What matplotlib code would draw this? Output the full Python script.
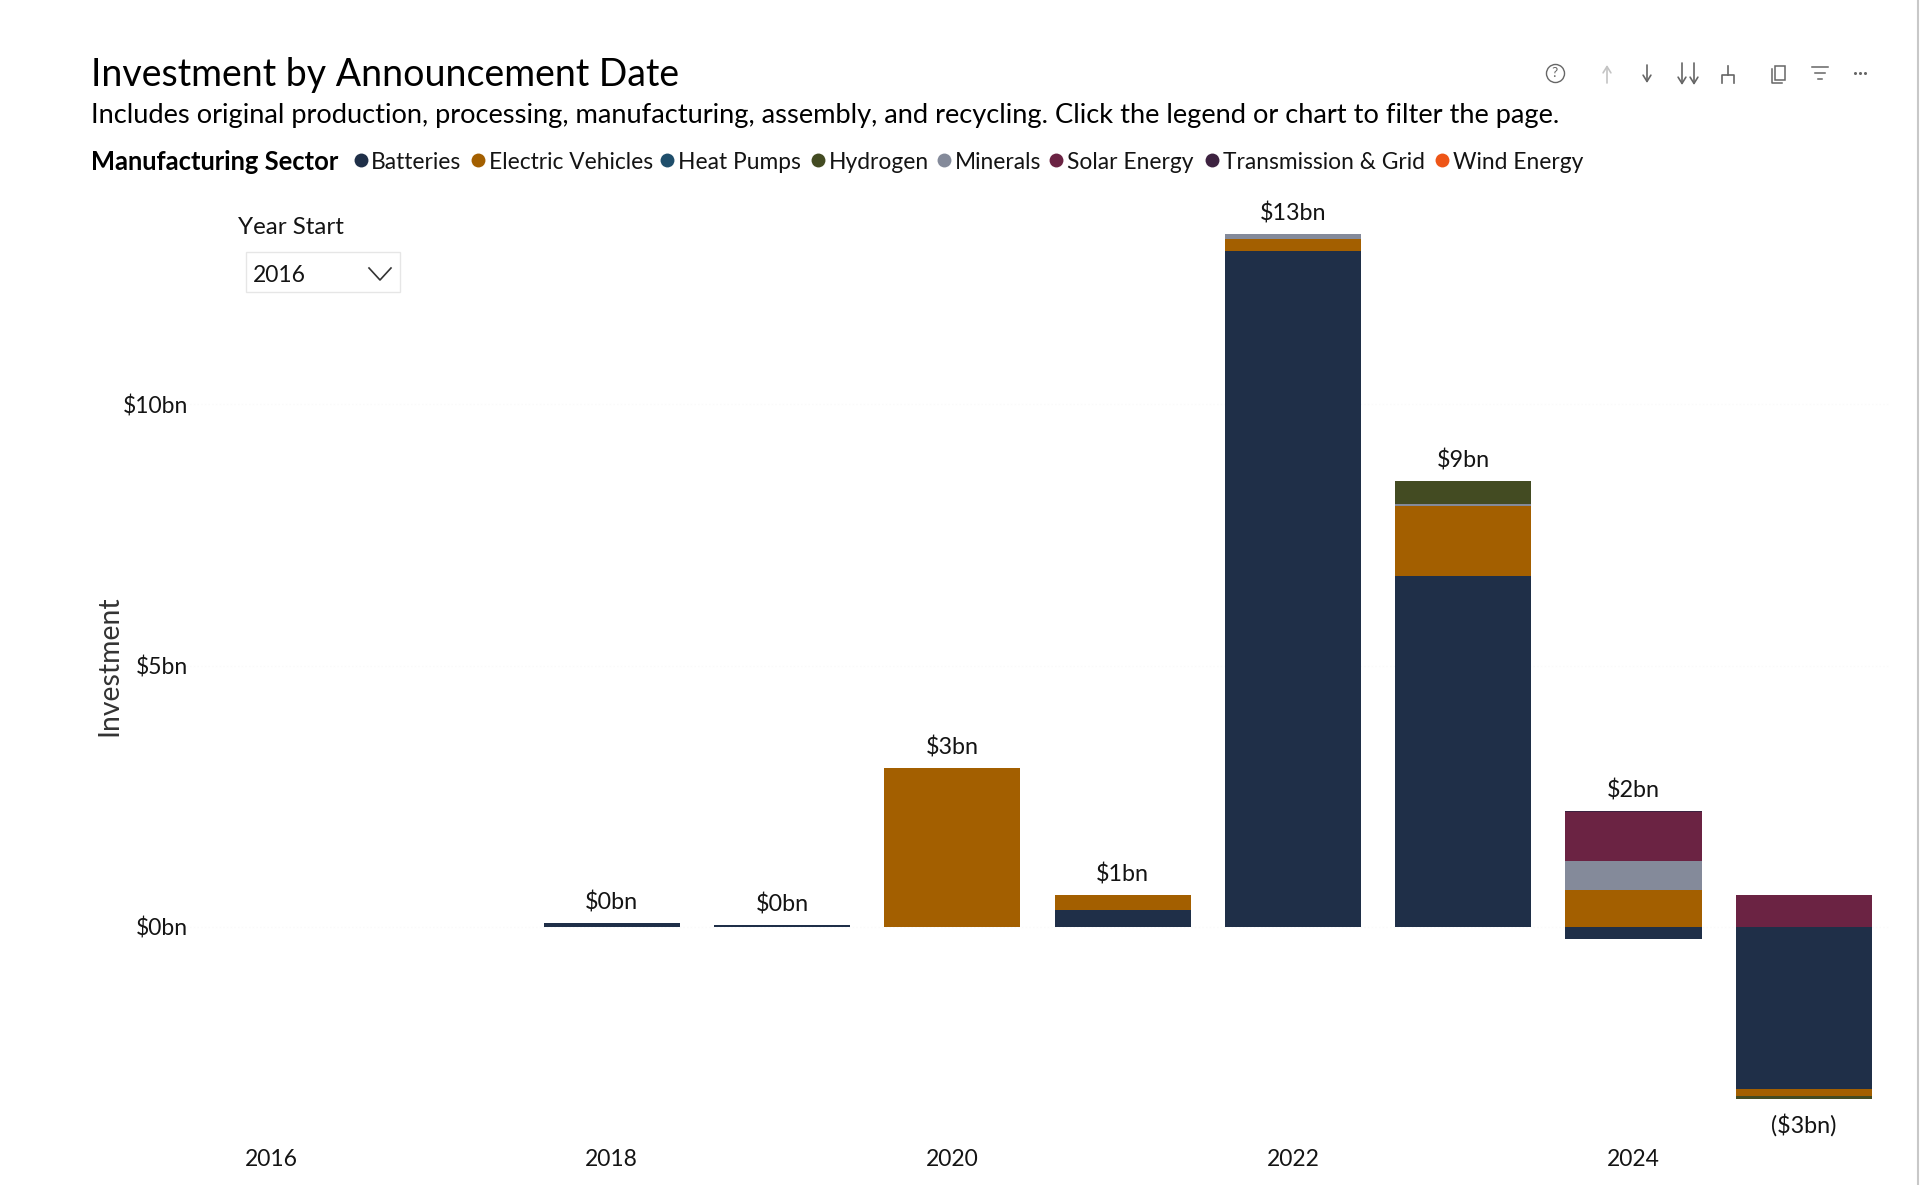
import matplotlib
matplotlib.use('Agg')
import matplotlib.pyplot as plt
import numpy as np

plt.rcParams['font.family'] = ['Lato', 'Roboto', 'DejaVu Sans']

W = 1920
H = 1185

years = [2016, 2017, 2018, 2019, 2020, 2021, 2022, 2023, 2024, 2025]
sectors = ['Batteries', 'Electric Vehicles', 'Heat Pumps', 'Hydrogen', 'Minerals',
           'Solar Energy', 'Transmission & Grid', 'Wind Energy']
colors = ['#1F2F48', '#A35F00', '#1F4E6B', '#434B22', '#848A9A',
          '#6B2343', '#3D2240', '#EE5517']

batteries = [0, 0, 0.07, 0.04, 0, 0.33, 12.93, 6.72, -0.23, -3.09]
electric_vehicles = [0, 0, 0, 0, 3.04, 0.28, 0.23, 1.33, 0.70, -0.14]
heat_pumps = [0, 0, 0, 0, 0, 0, 0, 0, 0, 0]
hydrogen = [0, 0, 0, 0, 0, 0, 0, 0.44, 0, -0.05]
minerals = [0, 0, 0, 0, 0, 0, 0.09, 0.03, 0.56, 0]
solar = [0, 0, 0, 0, 0, 0, 0, 0, 0.93, 0.61]
transmission = [0, 0, 0, 0, 0, 0, 0, 0, 0.03, 0]
wind = [0, 0, 0, 0, 0, 0, 0, 0, 0, 0]
series = [batteries, electric_vehicles, heat_pumps, hydrogen, minerals, solar, transmission, wind]
# minerals sit under hydrogen in the 2023 stack
stack_order = [0, 1, 2, 4, 3, 5, 6, 7]

total_labels = ['', '', '$0bn', '$0bn', '$3bn', '$1bn', '$13bn', '$9bn', '$2bn', '($3bn)']
y_ticks = [0, 5, 10]
y_labels = ['$0bn', '$5bn', '$10bn']
x_ticks = [2016, 2018, 2020, 2022, 2024]

legend_dots = [361, 478, 667, 818, 944, 1056, 1212, 1442]
legend_text = [371, 489, 678, 829, 955, 1067, 1223, 1453]

text_col = '#141414'

fig = plt.figure(figsize=(W / 100, H / 100), dpi=100, facecolor='white')

# axes placed in pixels so zero sits at y=927 and a year is 170.3 px wide
ax = fig.add_axes([186 / W, 1 - 1110 / H, 1703 / W, 910 / H])
ax.set_xlim(2015.5, 2025.5)
ax.set_ylim(-183 / 52.3, 727 / 52.3)
for s in ax.spines.values():
    s.set_visible(False)
ax.grid(axis='y', color='#FAFAFA', linestyle=':', linewidth=1)
ax.set_axisbelow(True)

pos = np.zeros(len(years))
neg = np.zeros(len(years))
for k in stack_order:
    v = np.array(series[k], dtype=float)
    base = np.where(v >= 0, pos, neg)
    ax.bar(years, v, bottom=base, width=0.8, color=colors[k], linewidth=0)
    pos += np.where(v >= 0, v, 0)
    neg += np.where(v < 0, v, 0)

for i, lab in enumerate(total_labels):
    if lab == '':
        continue
    if lab.startswith('('):
        ax.annotate(lab, (years[i], neg[i]), xytext=(0, -19), textcoords='offset points',
                    ha='center', va='center', fontsize=16.8, color=text_col)
    else:
        ax.annotate(lab, (years[i], pos[i]), xytext=(0, 14.8), textcoords='offset points',
                    ha='center', va='center', fontsize=16.8, color=text_col)

ax.set_xticks(x_ticks)
ax.set_xticklabels([str(y) for y in x_ticks])
ax.set_yticks(y_ticks)
ax.set_yticklabels(y_labels)
ax.tick_params(axis='both', length=0, labelsize=16.5, labelcolor=text_col)
ax.tick_params(axis='y', pad=-1.5)
ax.tick_params(axis='x', pad=28)

# overlay in pixel coordinates for the header, slicer and toolbar
top = fig.add_axes([0, 0, 1, 1], facecolor='none')
top.set_xlim(0, W)
top.set_ylim(H, 0)
top.axis('off')

top.text(91, 75, 'Investment by Announcement Date', fontsize=27, color='#000000', va='center')
top.text(91, 115.5, 'Includes original production, processing, manufacturing, assembly, and recycling. '
         'Click the legend or chart to filter the page.', fontsize=19.6, color='#000000', va='center')
top.text(91, 162.5, 'Manufacturing Sector', fontsize=18.4, fontweight='bold', color='#000000', va='center')
for dot_x, txt_x, name, col in zip(legend_dots, legend_text, sectors, colors):
    top.plot([dot_x], [160], 'o', ms=10, color=col, mew=0)
    top.text(txt_x, 162.5, name, fontsize=16.4, color=text_col, va='center')

top.text(109, 666, 'Investment', rotation=90, fontsize=20.4, color='#333333', va='center', ha='center')

# year slicer
top.text(238, 228, 'Year Start', fontsize=17.4, color=text_col, va='center')
top.add_patch(plt.Rectangle((246, 252), 154, 40, fill=False, edgecolor='#E6E6E6', linewidth=1))
top.text(253, 276, '2016', fontsize=16.5, color=text_col, va='center')
top.plot([369, 380, 391], [268, 280, 268], color='#333333', linewidth=1.2)

# toolbar icons
icon = '#666666'
arrow = '->,head_length=0.45,head_width=0.28'
top.plot([1555], [73], 'o', ms=13, mfc='none', mec=icon, mew=1)
top.text(1555, 73, '?', fontsize=10, color=icon, ha='center', va='center')
for x0, y0, y1, col in [(1607, 83, 65, '#C4C4C4'), (1647, 65, 83, icon),
                        (1682, 63, 85, icon), (1694, 63, 85, icon)]:
    top.annotate('', (x0, y1), (x0, y0),
                 arrowprops=dict(arrowstyle=arrow, color=col, lw=1.2, shrinkA=0, shrinkB=0))
top.plot([1722, 1722, 1734, 1734], [83, 75, 75, 83], color=icon, linewidth=1.2)
top.plot([1728, 1728], [66, 75], color=icon, linewidth=1.2)
top.add_patch(plt.Rectangle((1775, 66), 10, 14, fill=False, edgecolor=icon, linewidth=1.1))
top.plot([1772, 1772, 1782], [69, 83, 83], color=icon, linewidth=1.1)
top.plot([1812, 1828], [67, 67], color=icon, linewidth=1.1)
top.plot([1815, 1825], [73, 73], color=icon, linewidth=1.1)
top.plot([1818, 1822], [79, 79], color=icon, linewidth=1.1)
top.plot([1855, 1860, 1865], [73, 73, 73], 'o', ms=2.2, color=icon, mew=0)

# right edge of the page
top.plot([1918, 1918], [0, H], color='#C8C8C8', linewidth=1.5)

fig.savefig('out.png', dpi=100, facecolor='white')
